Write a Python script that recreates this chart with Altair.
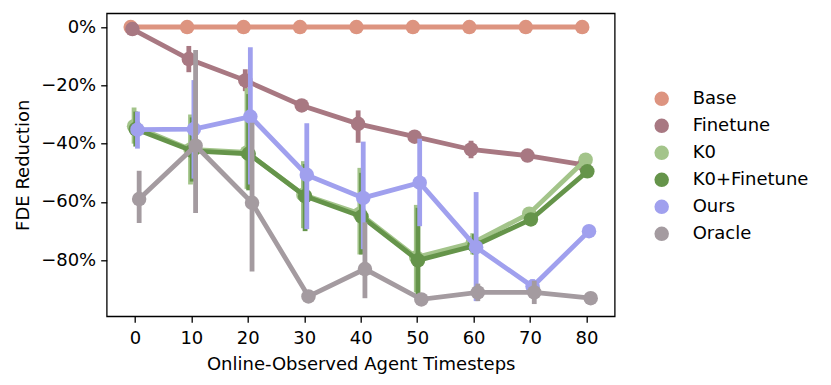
import altair as alt
import pandas as pd

timesteps = [0, 10, 20, 30, 40, 50, 60, 70, 80]
series = ["Base", "Finetune", "K0", "K0+Finetune", "Ours", "Oracle"]
colors = ["#DD9480", "#A87882", "#A3C48A", "#65944A", "#A0A0EE", "#A49BA0"]
dodge = [-0.75, -0.45, -0.15, 0.15, 0.45, 0.75]

base_mean = [0, 0, 0, 0, 0, 0, 0, 0, 0]
base_lo = [0, 0, 0, 0, 0, 0, 0, 0, 0]
base_hi = [0, 0, 0, 0, 0, 0, 0, 0, 0]

finetune_mean = [-0.7, -11, -18.3, -26.9, -33.2, -37.6, -42, -44.1, -47.3]
finetune_lo = [-1.5, -15.5, -22, -29, -39.7, -39.5, -45, -45.5, -48.5]
finetune_hi = [0, -6.5, -14.5, -25, -28.6, -35.7, -39, -42.7, -46]

k0_mean = [-34, -42, -43, -57.5, -64, -79, -74, -64, -45.5]
k0_lo = [-40, -54, -55.5, -69, -78, -91, -78, -66, -47]
k0_hi = [-27.6, -30, -21, -46, -48.3, -61, -70.7, -62, -44]

k0ft_mean = [-35, -42.5, -43.5, -58, -65, -80, -75, -66, -49.5]
k0ft_lo = [-41, -53, -56, -70, -78, -92, -78, -68, -51]
k0ft_hi = [-29, -31, -23, -47, -50, -62, -71, -64, -48]

ours_mean = [-35.2, -35, -30.7, -50.7, -58.6, -53.4, -75.5, -89, -70]
ours_lo = [-41.7, -52, -54, -69.3, -76.2, -68.3, -94, -90.7, -71]
ours_hi = [-29, -18.2, -6.9, -33, -39.3, -38.3, -56.6, -86.5, -69]

oracle_mean = [-59, -40.7, -60.3, -92.4, -83, -93.4, -91, -91, -93]
oracle_lo = [-67.2, -63.8, -83.8, -93.5, -93, -94.5, -94, -95, -94]
oracle_hi = [-49.3, -7.9, -32.8, -91, -67, -92.5, -88, -87, -92]

means = [base_mean, finetune_mean, k0_mean, k0ft_mean, ours_mean, oracle_mean]
los = [base_lo, finetune_lo, k0_lo, k0ft_lo, ours_lo, oracle_lo]
his = [base_hi, finetune_hi, k0_hi, k0ft_hi, ours_hi, oracle_hi]

rows = []
for i, s in enumerate(series):
    for j, t in enumerate(timesteps):
        rows.append({
            "series": s,
            "t": t,
            "xd": t + dodge[i],
            "mean": means[i][j] / 100.0,
            "lo": los[i][j] / 100.0,
            "hi": his[i][j] / 100.0,
        })
df = pd.DataFrame(rows)

FONT = "DejaVu Sans"

xscale = alt.Scale(domain=[-5, 85], nice=False, zero=False)
yscale = alt.Scale(domain=[-0.992, 0.047], nice=False, zero=False)
cscale = alt.Scale(domain=series, range=colors)

xenc = alt.X("xd:Q", scale=xscale,
             axis=alt.Axis(values=timesteps, title="Online-Observed Agent Timesteps",
                           format="d"))
yaxis = alt.Axis(values=[0, -0.2, -0.4, -0.6, -0.8], format=".0%", title="FDE Reduction",
                 labelExpr="datum.value < 0 ? '\u2212' + format(-datum.value, '.0%') : format(datum.value, '.0%')")

legend = alt.Legend(title=None, orient="none", legendX=546, legendY=76.5,
                    symbolType="circle", symbolSize=210, labelFontSize=18,
                    labelFont=FONT, labelColor="black", labelOffset=22,
                    rowPadding=9, padding=0, symbolOpacity=1,
                    symbolStrokeWidth=0)

# legend carrier layer (invisible marks; only the legend is shown)
legend_layer = alt.Chart(df).mark_circle(size=210, opacity=0).encode(
    x=xenc,
    y=alt.Y("mean:Q", scale=yscale, axis=yaxis),
    color=alt.Color("series:N", scale=cscale, legend=legend),
)

layers = [legend_layer]
for i, s in enumerate(series):
    b = alt.Chart(df).transform_filter(alt.datum.series == s)
    line = b.mark_line(strokeWidth=4.8).encode(
        x=xenc,
        y=alt.Y("mean:Q", scale=yscale, axis=yaxis),
        color=alt.Color("series:N", scale=cscale, legend=None),
        order="t:Q",
    )
    rule = b.mark_rule(strokeWidth=4.8).encode(
        x=xenc,
        y=alt.Y("lo:Q", scale=yscale, axis=yaxis),
        y2="hi:Q",
        color=alt.Color("series:N", scale=cscale, legend=None),
    )
    pts = b.mark_circle(size=210, opacity=1).encode(
        x=xenc,
        y=alt.Y("mean:Q", scale=yscale, axis=yaxis),
        color=alt.Color("series:N", scale=cscale, legend=None),
    )
    layers += [line, rule, pts]

chart = alt.layer(*layers).properties(
    width=508,
    height=303,
    autosize=alt.AutoSizeParams(type="none"),
    padding={"left": 98.7, "top": 5.3, "right": 208, "bottom": 60},
).configure_view(
    stroke="black", strokeWidth=1.3
).configure_axis(
    grid=False,
    domain=False,
    labelFont=FONT,
    titleFont=FONT,
    labelFontSize=18,
    titleFontSize=18,
    titleFontWeight="normal",
    labelColor="black",
    titleColor="black",
    tickColor="black",
    tickWidth=1.3,
    tickSize=6,
    labelPadding=5,
).configure_axisX(
    labelPadding=7,
    titlePadding=8,
).configure_axisY(
    titlePadding=8,
)

chart.save("out.html", embed_options={"renderer": "svg", "actions": False})
